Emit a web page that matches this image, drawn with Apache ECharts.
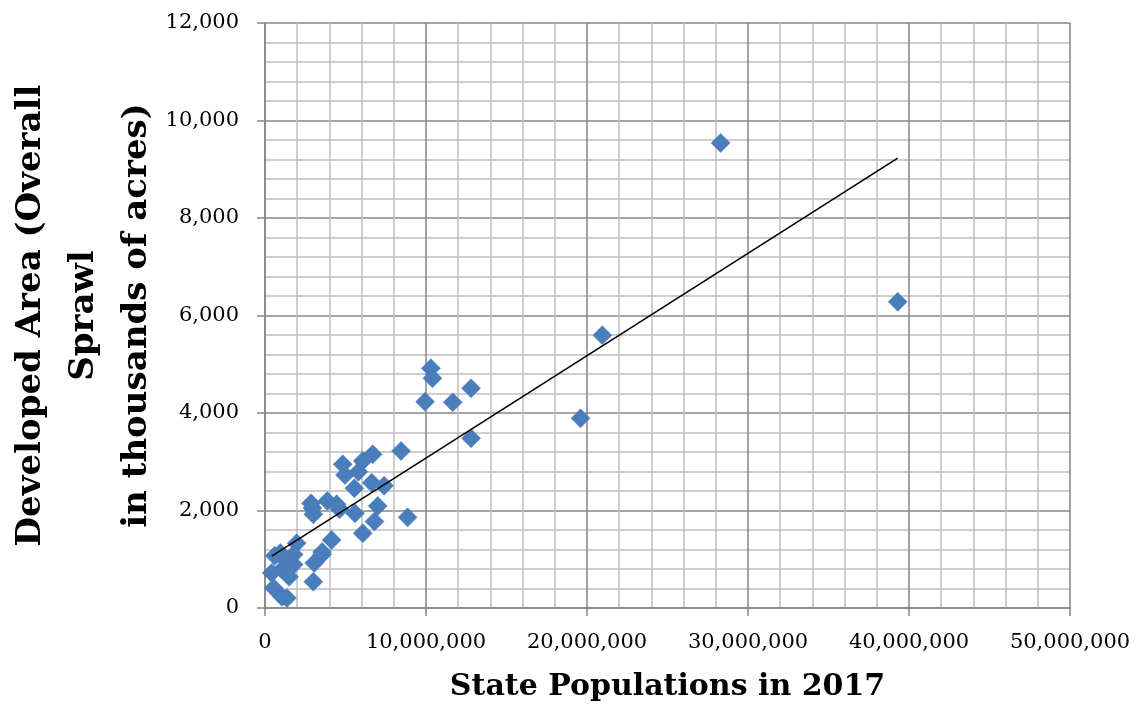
<!DOCTYPE html>
<html>
<head>
<meta charset="utf-8">
<script src="https://cdn.jsdelivr.net/npm/echarts@6/dist/echarts.min.js"></script>
<style>
html,body{margin:0;padding:0;background:#fff;}
#chart{width:1141px;height:707px;}
</style>
</head>
<body>
<div id="chart"></div>
<script>
// State populations in 2017 (x) and developed area, thousands of acres (y)
const population = [
  39300000, 28300000, 20950000, 19600000, 12800000, 12800000, 11660000, 10400000,
  10300000, 9940000, 8860000, 8450000, 7400000, 7000000, 6800000, 6690000,
  6630000, 6070000, 6070000, 5800000, 5590000, 5550000, 4970000, 4830000,
  4630000, 4450000, 4140000, 3870000, 3550000, 3060000, 3000000, 2860000,
  3000000, 2950000, 1970000, 1780000, 1780000, 1250000, 1050000, 600000,
  420000, 540000, 1360000, 1050000, 950000, 1500000, 3550000
];
const developed = [
  6280, 9540, 5595, 3890, 4506, 3481, 4220, 4712,
  4917, 4232, 1860, 3221, 2509, 2092, 1775, 3153,
  2571, 3015, 1532, 2796, 1942, 2455, 2728, 2948,
  2024, 2127, 1395, 2195, 1100, 925, 540, 2147,
  1922, 2050, 1330, 1100, 890, 990, 790, 1070,
  720, 410, 205, 230, 1130, 640, 1150
];
const xTicks = { min: 0, max: 50000000, interval: 10000000 };
const yTicks = { min: 0, max: 12000, interval: 2000 };

const points = population.map((p, i) => [p, developed[i]]);

// linear least-squares trendline computed from the data
const n = points.length;
let sx = 0, sy = 0, sxx = 0, sxy = 0;
points.forEach(([x, y]) => { sx += x; sy += y; sxx += x * x; sxy += x * y; });
const slope = (n * sxy - sx * sy) / (n * sxx - sx * sx);
const intercept = (sy - slope * sx) / n;
const xMin = Math.min(...population), xMax = Math.max(...population);
const trend = [[xMin, intercept + slope * xMin], [xMax, intercept + slope * xMax]];

const fmt = v => Math.round(v).toLocaleString('en-US');
const serif = 'DejaVu Serif';

const chart = echarts.init(document.getElementById('chart'), null, { renderer: 'canvas' });
chart.setOption({
  backgroundColor: '#fff',
  animation: false,
  grid: { left: 265, right: 71, top: 23, bottom: 99, containLabel: false, outerBoundsMode: 'none' },
  xAxis: {
    type: 'value',
    min: xTicks.min, max: xTicks.max, interval: xTicks.interval,
    name: 'State Populations in 2017',
    nameLocation: 'middle', nameGap: 64,
    nameTextStyle: { fontFamily: serif, fontWeight: 'bold', fontSize: 30, color: '#000' },
    axisLine: { show: true, lineStyle: { color: '#868686', width: 1.5 } },
    axisTick: { show: true, length: 8, lineStyle: { color: '#868686', width: 1.5 } },
    axisLabel: { formatter: fmt, fontFamily: serif, fontSize: 21, color: '#000', margin: 24 },
    splitLine: { show: true, lineStyle: { color: '#868686', width: 1.5 } },
    minorTick: { show: false, splitNumber: 5 },
    minorSplitLine: { show: true, lineStyle: { color: '#bdbdbd', width: 1.5 } }
  },
  yAxis: {
    type: 'value',
    min: yTicks.min, max: yTicks.max, interval: yTicks.interval,
    name: 'Developed Area (Overall\nSprawl\nin thousands of acres)',
    nameLocation: 'middle', nameGap: 101, nameRotate: 90, nameMoveOverlap: false,
    nameTextStyle: { fontFamily: serif, fontWeight: 'bold', fontSize: 34, lineHeight: 53, color: '#000', align: 'center' },
    axisLine: { show: true, lineStyle: { color: '#868686', width: 1.5 } },
    axisTick: { show: true, length: 8, lineStyle: { color: '#868686', width: 1.5 } },
    axisLabel: { formatter: fmt, fontFamily: serif, fontSize: 21, color: '#000', margin: 26 },
    splitLine: { show: true, lineStyle: { color: '#868686', width: 1.5 } },
    minorTick: { show: false, splitNumber: 5 },
    minorSplitLine: { show: true, lineStyle: { color: '#bdbdbd', width: 1.5 } }
  },
  series: [
    {
      type: 'scatter',
      data: points,
      symbol: 'diamond',
      symbolSize: 19,
      itemStyle: { color: '#4a7ebb', borderColor: '#4677b5', borderWidth: 0.5, opacity: 1 },
      z: 3
    },
    {
      type: 'line',
      data: trend,
      symbol: 'none',
      lineStyle: { color: '#000', width: 1.6 },
      z: 4
    }
  ]
});
</script>
</body>
</html>
